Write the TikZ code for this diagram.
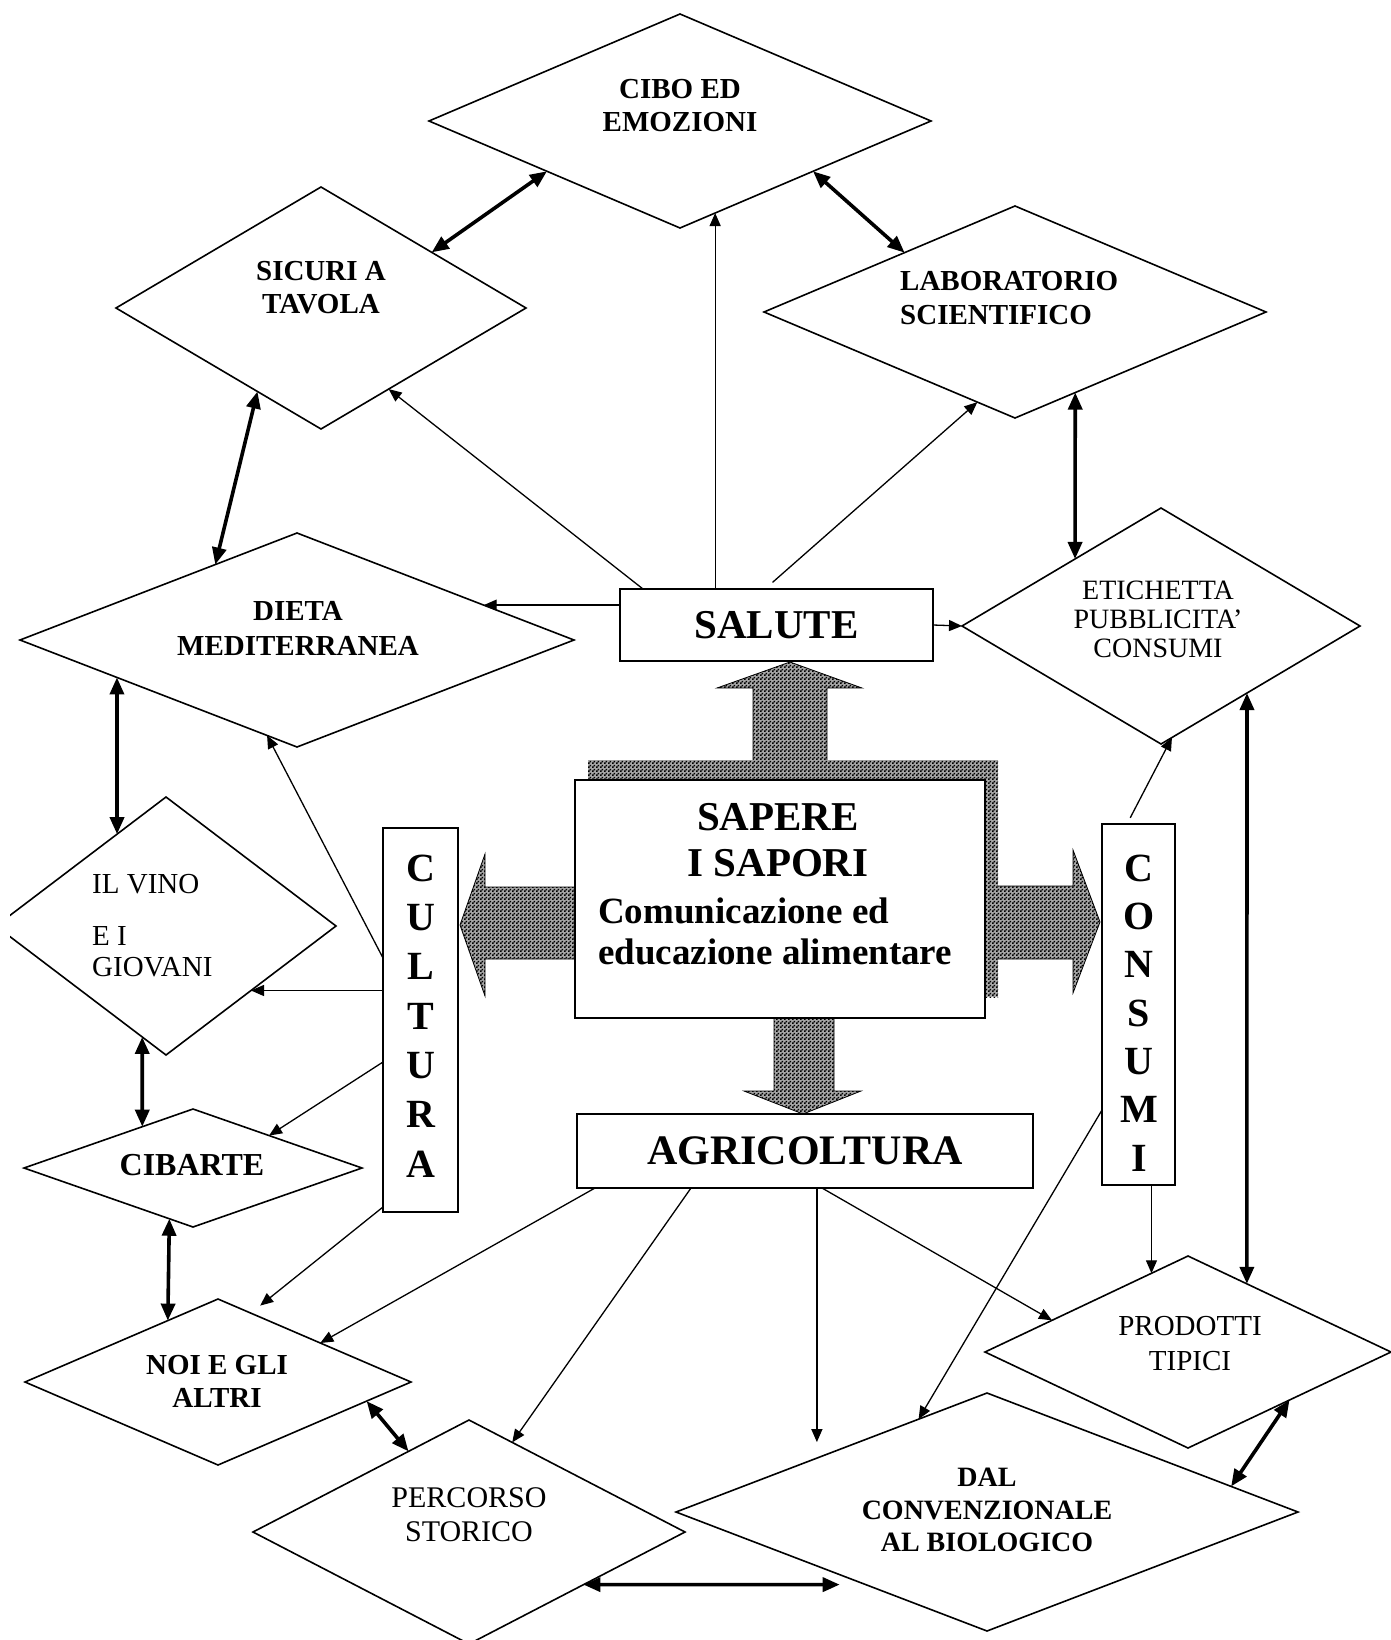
\documentclass[tikz,border=0pt]{standalone}
\usepackage{fontspec}
\setmainfont{Liberation Serif}
\usetikzlibrary{arrows.meta,calc,shapes.geometric,patterns}

% dithered grey fill for the block arrows and the shadow
\pgfdeclarepatternformonly{dither}{\pgfqpoint{0pt}{0pt}}{\pgfqpoint{4pt}{4pt}}{\pgfqpoint{4pt}{4pt}}{%
  \pgfpathrectangle{\pgfqpoint{0pt}{0pt}}{\pgfqpoint{2pt}{2pt}}%
  \pgfpathrectangle{\pgfqpoint{2pt}{2pt}}{\pgfqpoint{2pt}{2pt}}%
  \pgfusepath{fill}}

\newcommand{\fsz}[2]{\fontsize{#1}{#2}\selectfont}

\begin{document}
\begin{tikzpicture}[x=1pt,y=-1pt,
  dia/.style={draw, shape=diamond, line width=1.6pt, inner sep=0pt, outer sep=0pt},
  box/.style={draw, rectangle, line width=2.8pt, fill=white, inner sep=0pt, outer sep=0pt},
  lbl/.style={inner sep=0pt, align=center},
  thinarr/.style={line width=1.3pt, -{Triangle[length=13pt,width=11pt]}},
  thickarr/.style={line width=3.6pt, {Triangle[length=17pt,width=14pt]}-{Triangle[length=17pt,width=14pt]}},
  shade/.style={preaction={fill=black!35}, pattern=dither},
  block/.style={shade, draw=black, line width=0.8pt},
]
\useasboundingbox (0,0) rectangle (1391,1640);

% ---------- central block arrows and shadow ----------
\path[block] (753,780) -- (753,688) -- (717,688) -- (790,662) -- (862,688)
  -- (827,688) -- (827,780) -- cycle;
\path[block] (774,1010) -- (774,1091) -- (744,1091) -- (803,1114) -- (861,1091)
  -- (834,1091) -- (834,1010) -- cycle;
\path[block] (580,887) -- (485,887) -- (485,854) -- (460,925) -- (485,996)
  -- (485,959) -- (580,959) -- cycle;
\path[block] (990,886) -- (1073,886) -- (1073,850) -- (1100,922) -- (1073,993)
  -- (1073,959) -- (990,959) -- cycle;
\path[shade] (588,760) rectangle (998,997);

% ---------- rectangles ----------
\node[box, minimum width=410pt, minimum height=238pt] (sapere) at (780,899) {};
\node[lbl, font=\bfseries\fsz{41}{46}] (sapere-t) at (778,840) {SAPERE\\I SAPORI};
\node[lbl, align=left, anchor=west, font=\bfseries\fsz{37}{41}] (sapere-s) at (598,931)
  {Comunicazione ed\\educazione alimentare};

\node[box, minimum width=313pt, minimum height=72pt, font=\bfseries\fsz{41}{45}] (salute) at (776.5,625) {SALUTE};
\node[box, minimum width=456pt, minimum height=74pt, font=\bfseries\fsz{42}{45}] (agri) at (805,1151) {AGRICOLTURA};

\node[box, minimum width=75pt, minimum height=384pt] (cultura) at (420.5,1020) {};
\node[lbl, font=\bfseries\fsz{40}{49.3}] (cultura-t) at (421,1016) {C\\U\\L\\T\\U\\R\\A};
\node[box, minimum width=73pt, minimum height=361pt] (consumi) at (1138.5,1004.5) {};
\node[lbl, font=\bfseries\fsz{40}{48.3}] (consumi-t) at (1139,1013) {C\\O\\N\\S\\U\\M\\I};

% ---------- diamonds ----------
\node[dia, minimum width=502pt, minimum height=214pt] (cibo) at (680,121) {};
\node[dia, minimum width=410pt, minimum height=242pt] (sicuri) at (321,308) {};
\node[dia, minimum width=554pt, minimum height=214pt] (dieta) at (297,640) {};
\node[dia, minimum width=502pt, minimum height=212pt] (lab) at (1015,312) {};
\node[dia, minimum width=398pt, minimum height=236pt] (etich) at (1161,626) {};
\begin{scope}
  \clip (10,0) rectangle (1391,1640);
  \node[dia, minimum width=340pt, minimum height=258pt] (vino) at (166,926) {};
\end{scope}
\node[dia, minimum width=338pt, minimum height=118pt] (cibarte) at (193,1168) {};
\node[dia, minimum width=386pt, minimum height=166pt] (noi) at (218,1382) {};
\node[dia, minimum width=432pt, minimum height=224pt] (percorso) at (469,1532) {};
\node[dia, minimum width=622pt, minimum height=238pt] (dal) at (987,1512) {};
\node[dia, minimum width=406pt, minimum height=192pt] (prodotti) at (1188,1352) {};

% ---------- diamond texts ----------
\node[lbl, font=\bfseries\fsz{29}{33}] (cibo-t) at (680,106) {CIBO ED\\EMOZIONI};
\node[lbl, font=\bfseries\fsz{29}{33}] (sicuri-t) at (321,288) {SICURI A\\TAVOLA};
\node[lbl, font=\bfseries\fsz{29}{35}] (dieta-t) at (298,628) {DIETA\\MEDITERRANEA};
\node[lbl, align=left, anchor=west, font=\bfseries\fsz{29}{34}] (lab-t) at (900,298) {LABORATORIO\\SCIENTIFICO};
\node[lbl, font=\fsz{28}{29}] (etich-t) at (1158,619) {ETICHETTA\\PUBBLICITA'\\CONSUMI};
\node[lbl, align=left, anchor=west, font=\fsz{29}{31}] (vino-t) at (92,926) {IL VINO\\[21pt]E I\\GIOVANI};
\node[lbl, font=\bfseries\fsz{32}{36}] (cibarte-t) at (192,1165) {CIBARTE};
\node[lbl, font=\bfseries\fsz{29}{33}] (noi-t) at (217,1381) {NOI E GLI\\ALTRI};
\node[lbl, font=\fsz{30}{34}] (percorso-t) at (469,1515) {PERCORSO\\STORICO};
\node[lbl, font=\bfseries\fsz{28}{32.5}] (dal-t) at (987,1510) {DAL\\CONVENZIONALE\\AL BIOLOGICO};
\node[lbl, font=\fsz{29}{35}] (prodotti-t) at (1190,1344) {PRODOTTI\\TIPICI};

% ---------- points on diamond edges ----------
\coordinate (dA) at ($(dieta.north)!0.674!(dieta.east)$);
\coordinate (cC) at ($(cibo.south)!0.14!(cibo.east)$);
\coordinate (vG) at ($(vino.east)!0.5!(vino.south)$);
\coordinate (dL) at ($(dal.north)!0.547!(dal.west)$);
\coordinate (pP) at ($(prodotti.north)!0.18!(prodotti.west)$);

% ---------- thin arrows ----------
% from SALUTE
\draw[thinarr] (dA -| salute.west) -- (dA);
\draw[thinarr] ([xshift=23pt]salute.north west) -- ($(sicuri.south)!0.33!(sicuri.east)$);
\draw[thinarr] (cC |- salute.north) -- (cC);
\draw[thinarr, shorten <=10pt] ([xshift=145pt]salute.north west) -- ($(lab.south)!0.15!(lab.west)$);
\draw[thinarr] (salute.east) -- (etich.west);
% from CULTURA
\draw[thinarr] ([yshift=-130pt]cultura.north west) -- ($(dieta.south)!0.108!(dieta.west)$);
\draw[thinarr] (vG -| cultura.west) -- (vG);
\draw[thinarr] ([yshift=-234pt]cultura.north west) -- ($(cibarte.north)!0.45!(cibarte.east)$);
\draw[thinarr, shorten >=12pt] ([yshift=5pt]cultura.south west) -- ($(noi.north)!0.17!(noi.east)$);
% from AGRICOLTURA
\draw[thinarr] ([xshift=18pt]agri.south west) -- ($(noi.north)!0.53!(noi.east)$);
\draw[thinarr] ([xshift=114pt]agri.south west) -- ($(percorso.north)!0.2!(percorso.east)$);
\draw[thinarr, shorten >=16pt] (dL |- agri.south) -- (dL);
\draw[thinarr] ([xshift=245pt]agri.south west) -- ($(prodotti.west)!0.33!(prodotti.north)$);
% from CONSUMI
\draw[thinarr, shorten <=7pt] ([xshift=25pt]consumi.north west) -- ($(etich.south)!0.055!(etich.east)$);
\draw[thinarr] ([yshift=75pt]consumi.south west) -- ($(dal.north)!0.22!(dal.west)$);
\draw[thinarr] (pP |- consumi.south) -- (pP);

% ---------- thick double arrows ----------
\draw[thickarr] ($(cibo.west)!0.47!(cibo.south)$) -- ($(sicuri.north)!0.54!(sicuri.east)$);
\draw[thickarr] ($(cibo.south)!0.53!(cibo.east)$) -- ($(lab.west)!0.56!(lab.north)$);
\draw[thickarr] ($(sicuri.west)!0.69!(sicuri.south)$) -- ($(dieta.west)!0.705!(dieta.north)$);
\draw[thickarr] ($(lab.south)!0.24!(lab.east)$) -- ($(etich.west)!0.568!(etich.north)$);
\draw[thickarr] ($(dieta.west)!0.35!(dieta.south)$) -- ($(vino.north)!0.288!(vino.west)$);
\draw[thickarr] ($(vino.south)!0.14!(vino.west)$) -- ($(cibarte.north)!0.3!(cibarte.west)$);
\draw[thickarr] ($(cibarte.south)!0.14!(cibarte.west)$) -- ($(noi.north)!0.26!(noi.west)$);
\draw[thickarr] ($(noi.east)!0.23!(noi.south)$) -- ($(percorso.north)!0.28!(percorso.west)$);
\draw[thickarr, shorten >=26pt] ($(percorso.east)!0.47!(percorso.south)$) -- ($(dal.west)!0.61!(dal.south)$);
\draw[thickarr] ($(etich.east)!0.568!(etich.south)$) -- ($(prodotti.north)!0.29!(prodotti.east)$);
\draw[thickarr] ($(prodotti.east)!0.5!(prodotti.south)$) -- ($(dal.north)!0.785!(dal.east)$);

\end{tikzpicture}
\end{document}
